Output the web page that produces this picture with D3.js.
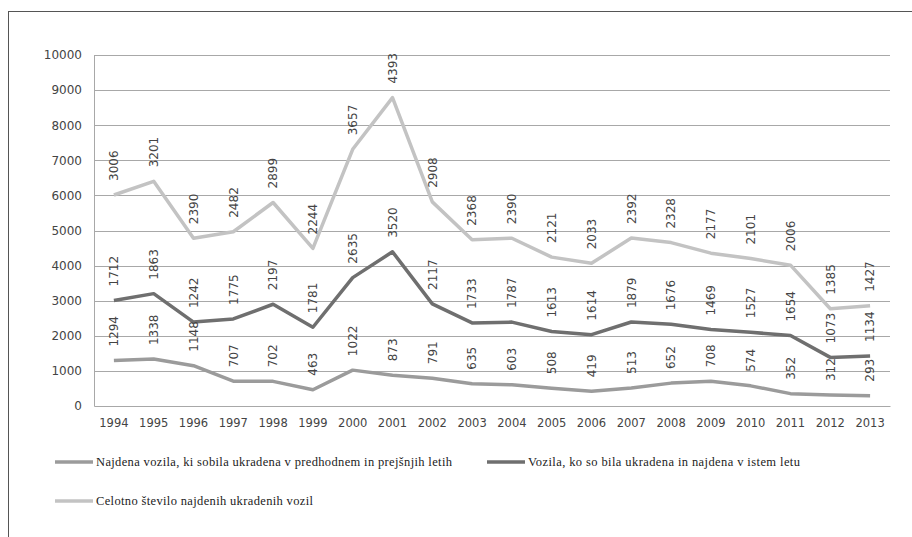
<!DOCTYPE html>
<html><head><meta charset="utf-8">
<script src="https://cdn.jsdelivr.net/npm/d3@7"></script>
<style>body{margin:0;background:#fff}svg{display:block}</style>
</head><body>
<svg id="c" width="912" height="537"></svg>
<script>
const years = ["1994","1995","1996","1997","1998","1999","2000","2001","2002","2003","2004","2005","2006","2007","2008","2009","2010","2011","2012","2013"];
const prejsnjaLeta = [1294,1338,1148,707,702,463,1022,873,791,635,603,508,419,513,652,708,574,352,312,293];
const istoLeto = [1712,1863,1242,1775,2197,1781,2635,3520,2117,1733,1787,1613,1614,1879,1676,1469,1527,1654,1073,1134];
const skupaj = [3006,3201,2390,2482,2899,2244,3657,4393,2908,2368,2390,2121,2033,2392,2328,2177,2101,2006,1385,1427];
const seriesNames = ["Najdena vozila, ki sobila ukradena v predhodnem in prejšnjih letih","Vozila, ko so bila ukradena in najdena v istem letu","Celotno število najdenih ukradenih vozil"];
const yTicks = [0,1000,2000,3000,4000,5000,6000,7000,8000,9000,10000];

const colors = ["#9b9b9b","#6f6f6f","#c3c3c3"];
const NUMFONT = "DejaVu Sans";
const SERIF = "Liberation Serif";
const svg = d3.select("#c");
const L = 94, R = 890, T = 55, B = 406;

svg.append("rect").attr("x",8.5).attr("y",11.5).attr("width",920).attr("height",540)
  .attr("fill","none").attr("stroke","#555").attr("stroke-width",1);

const x = d3.scaleBand().domain(years).range([L,R]);
const y = d3.scaleLinear().domain([0,10000]).range([B,T]);

svg.append("g").selectAll("line").data(yTicks.filter(d=>d>0)).join("line")
  .attr("x1",L).attr("x2",R).attr("y1",d=>Math.round(y(d))+0.5).attr("y2",d=>Math.round(y(d))+0.5)
  .attr("stroke","#a8a8a8").attr("stroke-width",1);

const ya = svg.append("g").attr("transform",`translate(${L},0)`)
  .call(d3.axisLeft(y).tickValues(yTicks).tickSize(0).tickPadding(12).tickFormat(d3.format("d")));
ya.attr("font-family",NUMFONT).attr("font-size",12);
ya.select(".domain").attr("stroke","#a8a8a8");
ya.selectAll("text").attr("font-family",NUMFONT).attr("font-size",12).attr("fill","#444");

const xa = svg.append("g").attr("transform",`translate(0,${B})`)
  .call(d3.axisBottom(x).tickSize(0).tickPadding(13));
xa.attr("font-family",NUMFONT).attr("font-size",11.5);
xa.select(".domain").attr("stroke","#a8a8a8");
xa.selectAll("text").attr("font-family",NUMFONT).attr("font-size",11.5).attr("fill","#444");

const rows = years.map((yr,i)=>({year:yr, a:prejsnjaLeta[i], b:istoLeto[i], c:skupaj[i]}));
const stack = d3.stack().keys(["a","b","c"])(rows);

const line = d3.line().x(d=>x(d.data.year)+x.bandwidth()/2).y(d=>y(d[1]));
svg.append("g").selectAll("path").data(stack).join("path")
  .attr("d",line).attr("fill","none").attr("stroke",(d,i)=>colors[i])
  .attr("stroke-width",3.5).attr("stroke-linejoin","round");

stack.forEach((s)=>{
  svg.append("g").selectAll("text").data(s).join("text")
    .attr("transform",d=>`translate(${x(d.data.year)+x.bandwidth()/2},${y(d[1])-14}) rotate(-90)`)
    .attr("dy","0.36em").attr("text-anchor","start")
    .attr("font-family",NUMFONT).attr("font-size",12).attr("fill","#444")
    .text(d=>d.data[s.key]);
});

const leg = [{i:0,x:55,y:462,w:356},{i:1,x:487,y:462,w:272},{i:2,x:55,y:501,w:217}];
const lg = svg.append("g").selectAll("g").data(leg).join("g")
  .attr("transform",d=>`translate(${d.x},${d.y})`);
lg.append("line").attr("x1",0).attr("x2",38).attr("stroke",d=>colors[d.i]).attr("stroke-width",3.5);
lg.append("text").attr("x",41).attr("dy","0.35em")
  .attr("font-family",SERIF).attr("font-size",12.5).attr("fill","#222")
  .attr("textLength",d=>d.w).attr("lengthAdjust","spacing")
  .text(d=>seriesNames[d.i]);
</script>
</body></html>
